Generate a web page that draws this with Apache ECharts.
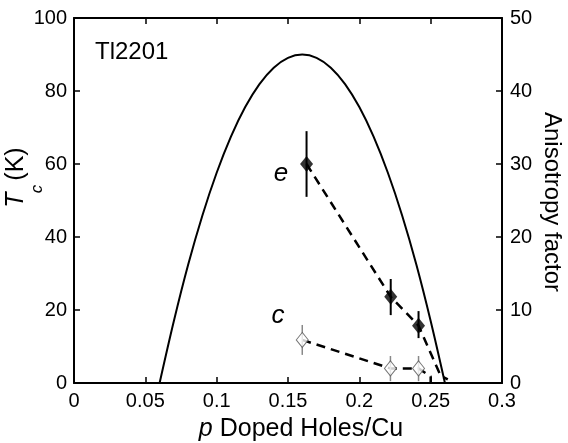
<!DOCTYPE html>
<html>
<head>
<meta charset="utf-8">
<script src="https://cdn.jsdelivr.net/npm/echarts@6/dist/echarts.min.js"></script>
<style>html,body{margin:0;padding:0;background:#fff}#c{width:568px;height:443px}</style>
</head>
<body>
<div id="c"></div>
<script>
// Tc dome (solid curve)
const domeP  = [0.060,0.070,0.080,0.090,0.100,0.110,0.120,0.130,0.140,0.150,0.160,0.170,0.180,0.190,0.200,0.210,0.220,0.230,0.240,0.250,0.260];
const domeTc = [0,   17,   32.4, 45.9, 57.6, 67.5, 75.6, 81.9, 86.4, 89.1, 90,   89.1, 86.4, 81.9, 75.6, 67.5, 57.6, 45.9, 32.4, 17,   0];

// e: filled diamonds (Tc-axis units)
const eP   = [0.163, 0.222, 0.2415];
const eVal = [60, 23.6, 15.7];
const eLo  = [51, 18.6, 12.3];
const eHi  = [69, 28.5, 19.7];
// e dashed guide
const eLineP = [0.163, 0.222, 0.2415, 0.257, 0.262];
const eLineV = [60, 23.6, 15.7, 2, 1];

// c: open diamonds
const cP   = [0.160, 0.2218, 0.2415];
const cVal = [11.8, 4, 4];
const cLo  = [7.7, 0.5, 0.5];
const cHi  = [15.9, 7.4, 7.4];
// c dashed guide
const cLineP = [0.160, 0.2218, 0.2415, 0.250, 0.250];
const cLineV = [11.8, 4, 4, 1.8, 0.3];

const xTicks = [0, 0.05, 0.1, 0.15, 0.2, 0.25, 0.3];
const leftTicks = [0, 20, 40, 60, 80, 100];
const rightTicks = [0, 10, 20, 30, 40, 50];

const FONT = 'Liberation Sans, Arial, Helvetica, sans-serif';
const zip = (a, b) => a.map((v, i) => [v, b[i]]);
const zip3 = (a, b, c) => a.map((v, i) => [v, b[i], c[i]]);

function errBar(color, width) {
  return function (params, api) {
    const x = api.value(0);
    const p1 = api.coord([x, api.value(1)]);
    const p2 = api.coord([x, api.value(2)]);
    return { type: 'line', shape: { x1: p1[0], y1: p1[1], x2: p2[0], y2: p2[1] },
             style: { stroke: color, lineWidth: width } };
  };
}

const axisCommon = {
  axisLine: { show: true, onZero: false, lineStyle: { color: '#000', width: 2 } },
  axisTick: { show: true, inside: true, length: 6, lineStyle: { color: '#000', width: 1.5 } },
  splitLine: { show: false },
  axisLabel: { color: '#000', fontSize: 20, fontFamily: FONT }
};

const chart = echarts.init(document.getElementById('c'), null, { renderer: 'canvas' });
chart.setOption({
  animation: false,
  backgroundColor: '#fff',
  grid: { left: 74, right: 66, top: 18, bottom: 60, outerBoundsMode: 'none' },
  xAxis: [
    Object.assign({}, axisCommon, { type: 'value', position: 'bottom', min: xTicks[0], max: xTicks[xTicks.length-1], interval: 0.05,
      axisLabel: Object.assign({}, axisCommon.axisLabel, { margin: 8 }) }),
    Object.assign({}, axisCommon, { type: 'value', position: 'top', min: xTicks[0], max: xTicks[xTicks.length-1], interval: 0.05,
      axisLabel: { show: false } })
  ],
  yAxis: [
    Object.assign({}, axisCommon, { type: 'value', position: 'left', min: leftTicks[0], max: leftTicks[leftTicks.length-1], interval: 20,
      axisLabel: Object.assign({}, axisCommon.axisLabel, { margin: 7 }) }),
    Object.assign({}, axisCommon, { type: 'value', position: 'right', min: rightTicks[0], max: rightTicks[rightTicks.length-1], interval: 10,
      axisLabel: Object.assign({}, axisCommon.axisLabel, { margin: 8 }) })
  ],
  series: [
    { type: 'line', data: zip(domeP, domeTc), smooth: 0.35, showSymbol: false, symbol: 'none',
      lineStyle: { color: '#000', width: 2 }, z: 2 },
    { type: 'line', data: zip(eLineP, eLineV), showSymbol: false, symbol: 'none',
      lineStyle: { color: '#000', width: 2.5, type: [9, 6] }, z: 3 },
    { type: 'line', data: zip(cLineP, cLineV), showSymbol: false, symbol: 'none',
      lineStyle: { color: '#000', width: 2.5, type: [9, 6] }, z: 3 },
    { type: 'custom', renderItem: errBar('#000', 2), data: zip3(eP, eLo, eHi), z: 4 },
    { type: 'custom', renderItem: errBar('#888', 1.5), data: zip3(cP, cLo, cHi), z: 4 },
    { type: 'scatter', data: zip(eP, eVal), symbol: 'diamond', symbolSize: [13, 16],
      itemStyle: { color: '#000' }, z: 5 },
    { type: 'scatter', data: zip(cP, cVal), symbol: 'diamond', symbolSize: [12, 15],
      itemStyle: { color: '#fff', borderColor: '#555', borderWidth: 1 }, z: 5 }
  ],
  graphic: [
    { type: 'text', x: 95, y: 52, style: { text: 'Tl2201', font: '24px ' + FONT, fill: '#000', verticalAlign: 'middle' } },
    { type: 'text', x: 281, y: 174, style: { text: 'e', font: 'italic 26px ' + FONT, fill: '#000', align: 'center', verticalAlign: 'middle' } },
    { type: 'text', x: 278, y: 316, style: { text: 'c', font: 'italic 26px ' + FONT, fill: '#000', align: 'center', verticalAlign: 'middle' } },
    { type: 'text', x: 16, y: 200, rotation: Math.PI / 2, style: { text: 'T', font: 'italic 25px ' + FONT, fill: '#000', align: 'center', verticalAlign: 'middle' } },
    { type: 'text', x: 37, y: 189, rotation: Math.PI / 2, style: { text: 'c', font: 'italic 17px ' + FONT, fill: '#000', align: 'center', verticalAlign: 'middle' } },
    { type: 'text', x: 16, y: 164, rotation: Math.PI / 2, style: { text: '(K)', font: '25px ' + FONT, fill: '#000', align: 'center', verticalAlign: 'middle' } },
    { type: 'text', x: 552, y: 202, rotation: -Math.PI / 2, style: { text: 'Anisotropy factor', font: '24px ' + FONT, fill: '#000', align: 'center', verticalAlign: 'middle' } },
    { type: 'text', x: 301, y: 429, style: { text: '{i|p} Doped Holes/Cu', font: '25px ' + FONT, fill: '#000', align: 'center', verticalAlign: 'middle',
        rich: { i: { fontStyle: 'italic', fontSize: 25, fontFamily: FONT, fill: '#000' } } } }
  ]
});
</script>
</body>
</html>
